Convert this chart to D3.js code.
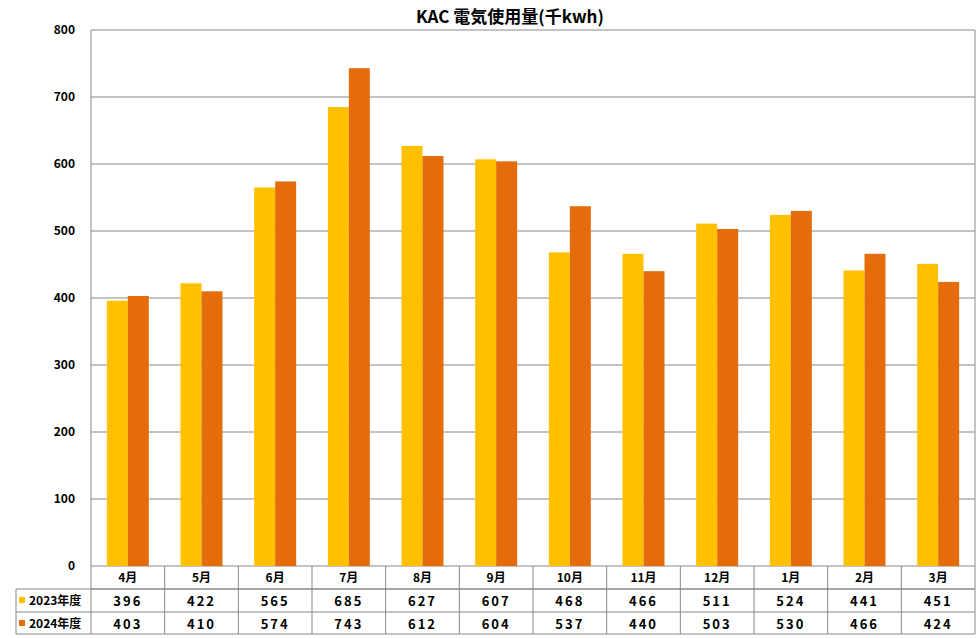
<!DOCTYPE html>
<html><head><meta charset="utf-8">
<script src="https://cdn.jsdelivr.net/npm/d3@7"></script>
<style>body{margin:0;background:#fff}</style></head>
<body><svg id="c" width="977" height="638"></svg>
<script>
const categories=["4月","5月","6月","7月","8月","9月","10月","11月","12月","1月","2月","3月"];
const seriesNames=["2023年度","2024年度"];
const s2023=[396,422,565,685,627,607,468,466,511,524,441,451];
const s2024=[403,410,574,743,612,604,537,440,503,530,466,424];
const yTicks=[0,100,200,300,400,500,600,700,800];
const colors=["#FFC000","#E46C0A"];
const svg=d3.select("#c");
const L=91,R=975,T=30,B=566;
const font="'Noto Sans CJK JP','Noto Sans',sans-serif";
const x=d3.scaleBand().domain(categories).range([L,R]);
const y=d3.scaleLinear().domain([0,800]).range([B,T]);
svg.append("text").attr("x",510).attr("y",23).attr("text-anchor","middle").attr("font-family",font).attr("font-weight","bold").attr("font-size",17).text("KAC 電気使用量(千kwh)");
svg.append("g").selectAll("line").data(yTicks).join("line").attr("x1",L).attr("x2",R).attr("y1",d=>y(d)).attr("y2",d=>y(d)).attr("stroke","#888");
svg.append("line").attr("x1",L).attr("x2",L).attr("y1",T).attr("y2",B).attr("stroke","#888");
svg.append("line").attr("x1",R).attr("x2",R).attr("y1",T).attr("y2",B).attr("stroke","#888");
svg.append("g").selectAll("text").data(yTicks).join("text").attr("x",75).attr("y",d=>y(d)+4).attr("text-anchor","end").attr("font-family",font).attr("font-size",12).attr("font-weight","bold").text(d=>d);
const bw=x.bandwidth()*0.285, off=(x.bandwidth()-2*bw)/2;
[s2023,s2024].forEach((s,i)=>{
 svg.append("g").selectAll("rect").data(s).join("rect")
  .attr("x",(d,j)=>x(categories[j])+off+i*bw).attr("width",bw)
  .attr("y",d=>y(d)).attr("height",d=>B-y(d)).attr("fill",colors[i]);
});
// table
const rows=[T,B,B+23,B+46,B+68];
const tl=16, rowY=[B,B+23,B+46,B+68];
const g=svg.append("g").attr("stroke","#888");
g.append("line").attr("x1",L).attr("x2",R).attr("y1",B+23).attr("y2",B+23);
g.append("line").attr("x1",tl).attr("x2",R).attr("y1",B+23).attr("y2",B+23);
g.append("line").attr("x1",tl).attr("x2",R).attr("y1",B+46).attr("y2",B+46);
g.append("line").attr("x1",tl).attr("x2",R).attr("y1",B+68).attr("y2",B+68);
g.append("line").attr("x1",tl).attr("x2",tl).attr("y1",B+23).attr("y2",B+68);
categories.concat(["end"]).forEach((c,j)=>{
 const xx=c==="end"?R:x(c);
 g.append("line").attr("x1",xx).attr("x2",xx).attr("y1",B).attr("y2",B+68);
});
const tx=svg.append("g").attr("font-family",font).attr("font-size",12).attr("font-weight","bold").attr("text-anchor","middle");
tx.selectAll(".m").data(categories).join("text").attr("x",d=>x(d)+x.bandwidth()/2).attr("y",B+16).text(d=>d);
[s2023,s2024].forEach((s,i)=>{
 tx.append("g").selectAll("text").data(s).join("text").attr("x",(d,j)=>x(categories[j])+x.bandwidth()/2).attr("y",B+23*(i+1)+17).attr("font-size",13).attr("letter-spacing",2).text(d=>d);
 svg.append("rect").attr("x",19).attr("y",B+23*(i+1)+8).attr("width",6).attr("height",6).attr("fill",colors[i]);
 svg.append("text").attr("x",29).attr("y",B+23*(i+1)+16).attr("font-family",font).attr("font-size",12).attr("font-weight","bold").text(seriesNames[i]);
});
</script></body></html>
